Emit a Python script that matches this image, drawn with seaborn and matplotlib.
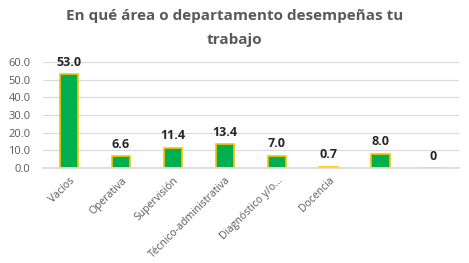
import matplotlib
matplotlib.use("Agg")
import matplotlib.pyplot as plt
import seaborn as sns
import pandas as pd

# chart data
categories = ["Vacíos", "Operativa", "Supervisión", "Técnico-administrativa",
              "Diagnóstico y/o...", "Docencia", " ", "  "]
values = [53.0, 6.6, 11.4, 13.4, 7.0, 0.7, 8.0, 0.0]
value_labels = ["53.0", "6.6", "11.4", "13.4", "7.0", "0.7", "8.0", "0"]
y_ticks = [0, 10, 20, 30, 40, 50, 60]

sns.set_theme(style="white")
plt.rcParams['font.family'] = ['Open Sans', 'DejaVu Sans']

df = pd.DataFrame({"area": categories, "pct": values})

fig = plt.figure(figsize=(4.69, 2.63), dpi=100)
ax = fig.add_axes([0.092, 0.361, 0.886, 0.403])

sns.barplot(data=df, x="area", y="pct", order=categories, color="#00B050",
            edgecolor="#FFC000", linewidth=1.2, width=0.36, saturation=1, ax=ax)

ax.bar_label(ax.containers[0], labels=value_labels, padding=4,
             fontsize=9, fontweight="bold", color="#262626")

ax.set_ylim(0, 60)
ax.set_yticks(y_ticks)
ax.set_yticklabels([f"{t:.1f}" for t in y_ticks], fontsize=8, color="#595959")
ax.set_xticks(range(len(categories)))
ax.set_xticklabels(categories, rotation=45, ha="right", rotation_mode="anchor",
                   fontsize=7.5, color="#595959")
ax.tick_params(axis="y", length=0, pad=9)
ax.tick_params(axis="x", length=0, pad=5)
ax.set_xlabel("")
ax.set_ylabel("")
ax.yaxis.grid(True, color="#D9D9D9", linewidth=0.8)
ax.set_axisbelow(True)
for side in ["left", "right", "top"]:
    ax.spines[side].set_visible(False)
ax.spines["bottom"].set_color("#D9D9D9")

fig.text(0.5, 0.965, "En qué área o departamento desempeñas tu\ntrabajo",
         ha="center", va="top", fontsize=11, fontweight="bold",
         color="#595959", linespacing=1.85)

fig.savefig("out.png", dpi=100)
